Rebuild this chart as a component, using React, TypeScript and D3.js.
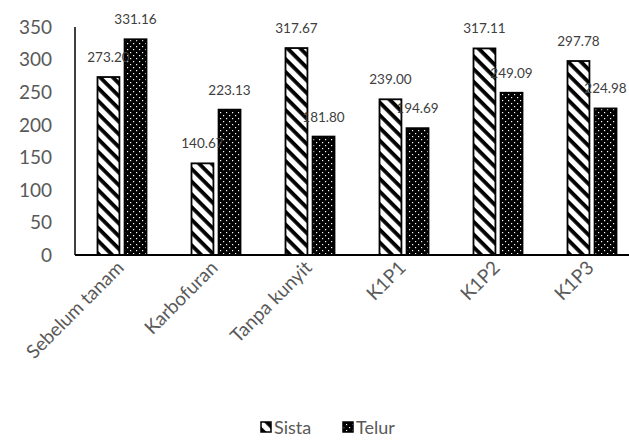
import React from "react";
import * as d3 from "d3";

const categories = ["Sebelum tanam", "Karbofuran", "Tanpa kunyit", "K1P1", "K1P2", "K1P3"];
const seriesNames = ["Sista", "Telur"];
const sistaValues = [273.2, 140.67, 317.67, 239.0, 317.11, 297.78];
const telurValues = [331.16, 223.13, 181.8, 194.69, 249.09, 224.98];
const yTicks = [0, 50, 100, 150, 200, 250, 300, 350];

const W = 629;
const H = 448;
const FONT = "Lato, 'Open Sans', sans-serif";

export default function App() {
  const x0 = d3.scaleBand<string>().domain(categories).range([75, 639]).padding(0);
  const x1 = d3.scaleBand<string>().domain(seriesNames).range([-24.5, 24.5]).paddingInner(0.19);
  const y = d3.scaleLinear().domain([0, 350]).range([255, 27]);
  const values: Record<string, number[]> = { Sista: sistaValues, Telur: telurValues };
  const fills: Record<string, string> = { Sista: "url(#stripe)", Telur: "url(#dots)" };

  return (
    <svg width={W} height={H} style={{ position: "absolute", left: 0, top: 0, background: "#fff" }}>
      <defs>
        <pattern id="stripe" patternUnits="userSpaceOnUse" width="9" height="9" patternTransform="rotate(45)">
          <rect x="0" y="0" width="9" height="9" fill="#fff" />
          <rect x="0" y="0" width="9" height="3.8" fill="#000" />
        </pattern>
        <pattern id="dots" patternUnits="userSpaceOnUse" width="6" height="6">
          <rect x="0" y="0" width="6" height="6" fill="#000" />
          <rect x="1" y="1" width="1.2" height="1.2" fill="#fff" />
          <rect x="4" y="4" width="1.2" height="1.2" fill="#fff" />
        </pattern>
      </defs>
      {yTicks.map((t) => (
        <text key={t} x={52} y={y(t)} dy="0.36em" textAnchor="end" fontFamily={FONT} fontSize={19} fill="#595959">
          {t}
        </text>
      ))}
      {categories.map((c, i) =>
        seriesNames.map((s) => {
          const v = values[s][i];
          const bx = (x0(c) as number) + x0.bandwidth() / 2 + (x1(s) as number);
          return (
            <rect
              key={c + s}
              x={bx}
              y={y(v)}
              width={x1.bandwidth()}
              height={y(0) - y(v)}
              fill={fills[s]}
              stroke="#000"
              strokeWidth={1.8}
            />
          );
        })
      )}
      <line x1={75} x2={75} y1={27} y2={255} stroke="#000" strokeWidth={1.5} />
      <line x1={75} x2={639} y1={255} y2={255} stroke="#000" strokeWidth={1.8} />
      {categories.map((c, i) =>
        seriesNames.map((s) => {
          const v = values[s][i];
          const cx = (x0(c) as number) + x0.bandwidth() / 2 + (x1(s) as number) + x1.bandwidth() / 2;
          return (
            <text key={"l" + c + s} x={cx} y={y(v) - 15} textAnchor="middle" fontFamily={FONT} fontSize={13.5} fill="#404040">
              {v.toFixed(2)}
            </text>
          );
        })
      )}
      {categories.map((c) => {
        const cx = (x0(c) as number) + x0.bandwidth() / 2;
        return (
          <text
            key={"x" + c}
            transform={`translate(${cx + 3},${269}) rotate(-45)`}
            textAnchor="end"
            fontFamily={FONT}
            fontSize={19}
            fill="#595959"
          >
            {c}
          </text>
        );
      })}
      <rect x={261} y={422} width={10} height={10} fill="url(#stripe)" stroke="#000" strokeWidth={1.5} />
      <text x={274} y={434} fontFamily={FONT} fontSize={18} fill="#595959">Sista</text>
      <rect x={343} y={422} width={10} height={10} fill="url(#dots)" stroke="#000" strokeWidth={1.5} />
      <text x={356} y={434} fontFamily={FONT} fontSize={18} fill="#595959">Telur</text>
    </svg>
  );
}
